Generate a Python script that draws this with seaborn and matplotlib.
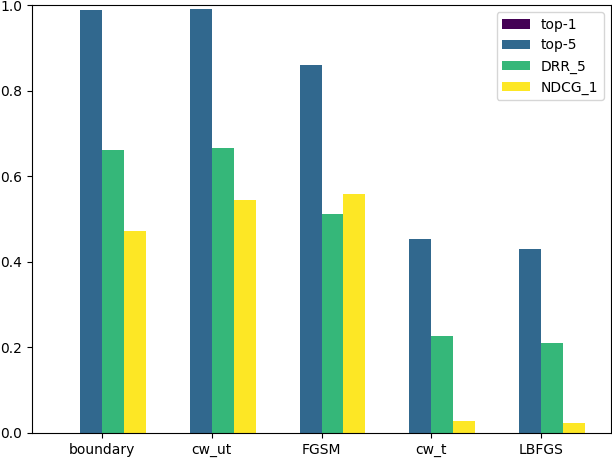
import matplotlib
matplotlib.use("Agg")
import matplotlib.pyplot as plt
import numpy as np
import pandas as pd
import seaborn as sns

categories = ["boundary", "cw_ut", "FGSM", "cw_t", "LBFGS"]
series_names = ["top-1", "top-5", "DRR_5", "NDCG_1"]
top1 = [0.0, 0.0, 0.0, 0.0, 0.0]
top5 = [0.988, 0.991, 0.860, 0.453, 0.430]
drr5 = [0.661, 0.666, 0.512, 0.227, 0.210]
ndcg1 = [0.472, 0.544, 0.558, 0.028, 0.023]

rows = []
for name, vals in zip(series_names, [top1, top5, drr5, ndcg1]):
    for c, v in zip(categories, vals):
        rows.append({"attack": c, "metric": name, "value": v})
df = pd.DataFrame(rows)

colors = [matplotlib.colors.to_hex(c) for c in plt.cm.viridis(np.linspace(0, 1, 4))]

fig = plt.figure(figsize=(6.12, 4.58), dpi=100)
ax = fig.add_axes([32 / 612, 25 / 458, 579 / 612, 428 / 458])
sns.barplot(data=df, x="attack", y="value", hue="metric", order=categories,
            hue_order=series_names, palette=colors, saturation=1,
            errorbar=None, width=0.8, ax=ax)
ax.set_xlim(-0.64, 4.64)
ax.set_ylim(0, 1.0)
ax.set_xlabel("")
ax.set_ylabel("")
sns.move_legend(ax, "upper right", title=None)
fig.savefig("out.png", dpi=100)
